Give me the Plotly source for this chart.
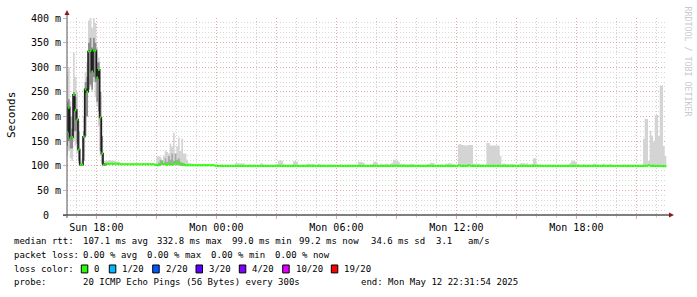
import plotly.graph_objects as go
from datetime import datetime, timedelta

# ---------------- data (ms), one value per 5-minute step, 12 per row = 1 hour ----------------
step_start = "2025-05-11 16:30:00"
step_minutes = 5

rtt_median = [
    169, 218, 157, 158, 244, 213, 194, 133, 102, 102, 159, 255,
    250, 332, 333, 291, 334, 334, 279, 295, 198, 125, 102, 103,
    104, 104, 104, 104, 104, 104, 104, 104, 103, 103, 103, 103,
    103, 103, 103, 103, 103, 103, 103, 103, 103, 103, 103, 103,
    103, 103, 103, 103, 103, 102, 101, 101, 102, 108, 104, 103,
    102, 103, 103, 102, 103, 108, 104, 108, 103, 102, 103, 101,
    101, 101, 101, 101, 101, 101, 101, 101, 101, 101, 101, 101,
    101, 101, 101, 101, 101, 100, 99.6, 99.5, 99.6, 99.6, 99.5, 99.6,
    99.6, 99.5, 99.6, 99.7, 99.5, 99.6, 99.6, 99.5, 99.7, 99.6, 99.5, 99.6,
    99.5, 99.6, 99.6, 99.5, 99.6, 99.7, 99.6, 99.5, 99.6, 99.6, 99.5, 99.6,
    99.6, 99.5, 99.6, 99.6, 99.5, 99.6, 99.7, 99.8, 99.7, 99.6, 99.5, 99.6,
    99.5, 99.6, 99.6, 99.5, 99.7, 99.7, 99.6, 99.5, 99.6, 99.6, 99.5, 99.6,
    99.6, 99.6, 99.5, 99.6, 99.6, 99.5, 99.6, 99.6, 99.5, 99.6, 99.6, 99.5,
    99.6, 99.5, 99.6, 99.6, 99.5, 99.6, 99.6, 99.5, 99.6, 99.6, 99.5, 99.6,
    99.5, 99.6, 99.6, 99.5, 99.6, 99.6, 99.5, 99.7, 99.7, 99.6, 99.6, 99.5,
    99.6, 99.5, 99.6, 99.6, 99.7, 99.7, 99.6, 99.5, 99.6, 99.6, 99.5, 99.6,
    99.6, 99.5, 99.6, 99.6, 99.8, 99.8, 99.7, 99.6, 99.6, 99.5, 99.6, 99.5,
    99.5, 99.6, 99.6, 99.5, 99.6, 99.5, 99.6, 99.6, 99.5, 99.6, 99.6, 99.5,
    99.6, 99.6, 99.6, 99.7, 99.6, 99.5, 99.6, 99.6, 99.5, 99.6, 99.5, 99.6,
    99.6, 99.6, 99.5, 99.6, 99.6, 99.5, 99.6, 100.8, 99.8, 99.7, 99.7, 99.7,
    99.7, 100.8, 99.8, 99.7, 99.6, 99.5, 99.6, 99.6, 99.5, 99.6, 99.6, 99.5,
    99.8, 99.8, 99.7, 99.7, 99.7, 99.7, 99.7, 99.7, 99.6, 99.5, 99.6, 99.6,
    99.5, 99.6, 99.6, 99.5, 99.6, 99.6, 99.5, 99.6, 99.6, 99.5, 99.6, 99.6,
    99.6, 99.5, 99.6, 99.6, 99.7, 99.7, 99.6, 99.5, 99.6, 99.6, 99.5, 99.6,
    99.5, 99.6, 99.6, 99.5, 99.6, 99.5, 99.6, 99.6, 99.5, 99.6, 99.5, 99.6,
    99.6, 99.5, 99.6, 99.6, 99.6, 99.6, 99.5, 99.6, 99.6, 99.5, 99.6, 99.5,
    99.5, 99.6, 99.6, 99.5, 99.6, 99.6, 99.5, 99.6, 99.6, 99.5, 99.6, 99.6,
    99.6, 99.5, 99.6, 99.6, 99.5, 99.6, 99.6, 99.5, 99.6, 99.6, 99.5, 99.6,
    99.5, 99.6, 99.6, 99.5, 99.6, 99.6, 99.5, 99.6, 99.6, 99.5, 99.7, 99.8,
    99.8, 101, 99.8, 99.7, 99.7, 99.6, 99.6, 99.5, 99.5, 99.4, 99.3, 99.2,
]

smoke_max = [
    285, 300, 230, 200, 330, 280, 250, 190, 110, 115, 200, 290,
    310, 395, 400, 380, 400, 390, 340, 320, 240, 150, 110, 110,
    110, 111, 111, 110, 110, 109, 108, 108, 106, 105, 105, 105,
    105, 104, 104, 105, 104, 104, 105, 104, 104, 104, 104, 105,
    104, 105, 104, 104, 104, 104, 118, 120, 118, 112, 120, 131,
    128, 125, 145, 138, 167, 125, 140, 157, 130, 155, 125, 125,
    112, 106, 105, 104, 104, 103, 103, 104, 103, 103, 104, 103,
    103, 103, 102, 103, 102, 102, 103, 102, 102, 103, 102, 102,
    102, 102, 102, 102, 102, 105, 105, 105, 104, 105, 105, 102,
    102, 102, 103, 102, 102, 102, 102, 102, 104, 105, 103, 102,
    102, 102, 102, 102, 102, 103, 103, 110, 111, 110, 104, 102,
    102, 102, 102, 103, 109, 110, 108, 102, 102, 102, 103, 102,
    104, 104, 103, 104, 103, 102, 102, 104, 103, 102, 102, 102,
    102, 103, 103, 102, 103, 102, 102, 102, 103, 102, 102, 102,
    102, 102, 102, 102, 102, 102, 102, 108, 108, 107, 106, 102,
    102, 102, 103, 103, 108, 108, 106, 102, 104, 104, 103, 104,
    104, 103, 104, 106, 112, 111, 110, 108, 104, 103, 104, 103,
    103, 102, 104, 104, 103, 102, 102, 102, 103, 102, 102, 102,
    103, 103, 106, 106, 105, 102, 102, 102, 103, 103, 102, 104,
    104, 105, 105, 104, 103, 102, 102, 143, 144, 142, 142, 141,
    141, 142, 142, 142, 104, 104, 104, 104, 103, 103, 102, 102,
    146, 146, 141, 141, 141, 141, 141, 141, 120, 104, 104, 104,
    103, 103, 103, 104, 103, 102, 102, 102, 105, 105, 105, 104,
    105, 103, 103, 104, 115, 115, 104, 103, 103, 102, 102, 102,
    102, 102, 102, 102, 102, 102, 102, 102, 102, 102, 102, 102,
    102, 103, 106, 110, 110, 108, 104, 103, 102, 102, 103, 102,
    102, 102, 102, 102, 104, 104, 103, 102, 102, 103, 104, 102,
    102, 103, 104, 102, 102, 102, 102, 102, 102, 102, 103, 102,
    102, 102, 102, 102, 102, 102, 102, 102, 102, 102, 155, 195,
    195, 110, 171, 161, 150, 203, 203, 161, 263, 263, 140, 120,
]

# minimum ping per step for the turbulent first two hours
early_min = [
    120, 130, 115, 110, 150, 140, 125, 105, 100, 100, 120, 180,
    220, 250, 260, 250, 270, 240, 220, 180, 120, 102, 100, 101,
]
# denser (darker) core of the smoke for the first two hours
early_core_hi = [
    230, 235, 200, 175, 250, 240, 215, 170, 104, 104, 170, 270,
    280, 350, 360, 340, 360, 350, 310, 310, 250, 160, 104, 104,
]
early_core_lo = [
    140, 150, 135, 135, 170, 170, 145, 110, 100, 100, 110, 160,
    200, 255, 265, 255, 280, 270, 230, 210, 130, 104, 100, 101,
]
# dense smoke in the bumpy stretch before midnight
bump_core_hi = [103, 103, 106, 112, 110, 106, 115, 108, 120, 112, 125, 110, 125, 112, 115, 108, 106, 104, 103]
bump_core_lo = [101, 100, 100, 101, 101, 102, 101, 101, 102, 101, 102, 101, 102, 101, 101, 100, 100, 100, 100]
bump_first_step = 53

y_ticks = [0, 50, 100, 150, 200, 250, 300, 350, 400]
y_ticktext = ["0\u00a0\u00a0", "50 m", "100 m", "150 m", "200 m", "250 m", "300 m", "350 m", "400 m"]
x_ticks = ["2025-05-11 18:00", "2025-05-11 21:00", "2025-05-12 00:00", "2025-05-12 03:00",
           "2025-05-12 06:00", "2025-05-12 09:00", "2025-05-12 12:00", "2025-05-12 15:00",
           "2025-05-12 18:00", "2025-05-12 21:00"]
x_ticktext = ["Sun 18:00", "", "Mon 00:00", "", "Mon 06:00", "", "Mon 12:00", "", "Mon 18:00", ""]
x_range = ["2025-05-11 16:31:54", "2025-05-12 22:31:54"]

loss_labels = ["0", "1/20", "2/20", "3/20", "4/20", "10/20", "19/20"]
loss_colors = ["#26ff00", "#00b8ff", "#0059ff", "#5e00ff", "#7e00ff", "#dd00ff", "#ff0000"]

# ---------------- build ----------------
t0 = datetime.strptime(step_start, "%Y-%m-%d %H:%M:%S")
times = [t0 + timedelta(minutes=step_minutes * k) for k in range(len(rtt_median) + 1)]

smoke_min = list(early_min) + rtt_median[len(early_min):]

fig = go.Figure()

def band(lo, hi, color, first=0):
    n = len(lo)
    xs = times[first:first + n + 1]
    fig.add_trace(go.Scatter(x=xs, y=lo + [lo[-1]], mode="lines", line=dict(width=0, shape="hv"),
                             hoverinfo="skip", showlegend=False))
    fig.add_trace(go.Scatter(x=xs, y=hi + [hi[-1]], mode="lines", line=dict(width=0, shape="hv"),
                             fill="tonexty", fillcolor=color, hoverinfo="skip", showlegend=False))

band(smoke_min, smoke_max, "#d4d4d4")
band(early_core_lo, early_core_hi, "#8c8c8c")
band(bump_core_lo, bump_core_hi, "#a8a8a8", bump_first_step)

# dark vertical connection of the median in the turbulent start
n_early = len(early_min) + 1
fig.add_trace(go.Scatter(x=times[:n_early], y=rtt_median[:n_early], mode="lines",
                         line=dict(color="#1c1c1c", width=1.6, shape="hv"),
                         hoverinfo="skip", showlegend=False))

mx, my = [], []
for k, v in enumerate(rtt_median):
    mx += [times[k], times[k + 1], None]
    my += [v, v, None]
fig.add_trace(go.Scatter(x=mx, y=my, mode="lines", line=dict(color=loss_colors[0], width=2.2),
                         hoverinfo="skip", showlegend=False))

PL, PR, PT, PB = 67, 667, 16, 215
def px(x):
    return (x - PL) / (PR - PL)
def py(y):
    return (PB - y) / (PB - PT)

MONO = "DejaVu Sans Mono"
fig.update_layout(
    width=697, height=297,
    margin=dict(l=PL, r=697 - PR, t=PT, b=297 - PB),
    paper_bgcolor="white", plot_bgcolor="white",
    showlegend=False,
    font=dict(family=MONO, size=10, color="black"),
    xaxis=dict(type="date", range=x_range, tickvals=x_ticks, ticktext=x_ticktext,
               showgrid=True, gridcolor="#e4a8a8", griddash="1px,2px", gridwidth=1,
               ticks="outside", ticklen=3, tickcolor="#e4a8a8", showline=False, zeroline=False,
               tickfont=dict(family=MONO, size=10),
               minor=dict(dtick=3600000, tick0="2025-05-11 17:00", showgrid=True,
                          gridcolor="#cfcfcf", griddash="1px,2px", ticks="outside",
                          ticklen=2, tickcolor="#cfcfcf")),
    yaxis=dict(range=[0, 400], tickvals=y_ticks, ticktext=y_ticktext,
               showgrid=True, gridcolor="#e4a8a8", griddash="1px,2px", gridwidth=1,
               ticks="outside", ticklen=3, tickcolor="#e4a8a8", showline=False, zeroline=False,
               tickfont=dict(family=MONO, size=10),
               minor=dict(dtick=10, showgrid=True, gridcolor="#d6d6d6", griddash="1px,2px")),
)

shapes = [
    dict(type="line", xref="paper", yref="paper", x0=px(63), x1=px(670), y0=py(215), y1=py(215),
         line=dict(color="black", width=1)),
    dict(type="line", xref="paper", yref="paper", x0=px(67), x1=px(67), y0=py(218), y1=py(12),
         line=dict(color="#555555", width=1)),
    dict(type="path", xref="paper", yref="paper", fillcolor="#8b1a1a", line=dict(width=0),
         path=f"M {px(64.5)} {py(13)} L {px(69.5)} {py(13)} L {px(67)} {py(8)} Z"),
    dict(type="path", xref="paper", yref="paper", fillcolor="#8b1a1a", line=dict(width=0),
         path=f"M {px(669)} {py(212.5)} L {px(669)} {py(217.5)} L {px(674)} {py(215)} Z"),
]

ann = []
LEG = 9.0
def text(x, y, s, size=LEG, color="black"):
    ann.append(dict(x=px(x), y=py(y), xref="paper", yref="paper", text=s, showarrow=False,
                    xanchor="left", yanchor="middle", font=dict(family=MONO, size=size, color=color)))

L1, L2, L3, L4 = 241.5, 255.5, 269.5, 283
text(12, L1, "median rtt:")
text(80.7, L1, "107.1 ms avg")
text(155.3, L1, "332.8 ms max")
text(230, L1, "99.0 ms min")
text(297.3, L1, "99.2 ms now")
text(369.3, L1, "34.6 ms sd")
text(434, L1, "3.1")
text(466, L1, "am/s")
text(12, L2, "packet loss:")
text(80.7, L2, "0.00 % avg")
text(144.7, L2, "0.00 % max")
text(209.3, L2, "0.00 % min")
text(273.3, L2, "0.00 % now")
text(12, L3, "loss color:")
sw_x = [81.3, 109.3, 152.7, 196, 239.3, 282.7, 331.3]
for sx, lab, col in zip(sw_x, loss_labels, loss_colors):
    shapes.append(dict(type="rect", xref="paper", yref="paper", x0=px(sx), x1=px(sx + 6.5),
                       y0=py(273.5), y1=py(265.5), fillcolor=col, line=dict(color="black", width=1)))
    text(sx + 11, L3, lab)
text(12, L4, "probe:")
text(80.7, L4, "20 ICMP Echo Pings (56 Bytes) every 300s")
text(359, L4, "end: Mon May 12 22:31:54 2025")

ann.append(dict(x=px(11), y=py(114), xref="paper", yref="paper", text="Seconds", showarrow=False,
                textangle=-90, xanchor="center", yanchor="middle", font=dict(family=MONO, size=11)))
ann.append(dict(x=px(688), y=py(60), xref="paper", yref="paper", text="RRDTOOL / TOBI OETIKER",
                showarrow=False, textangle=90, xanchor="center", yanchor="middle",
                font=dict(family=MONO, size=8.3, color="#cacaca")))

fig.update_layout(shapes=shapes, annotations=ann)
fig.write_html("out.html")
